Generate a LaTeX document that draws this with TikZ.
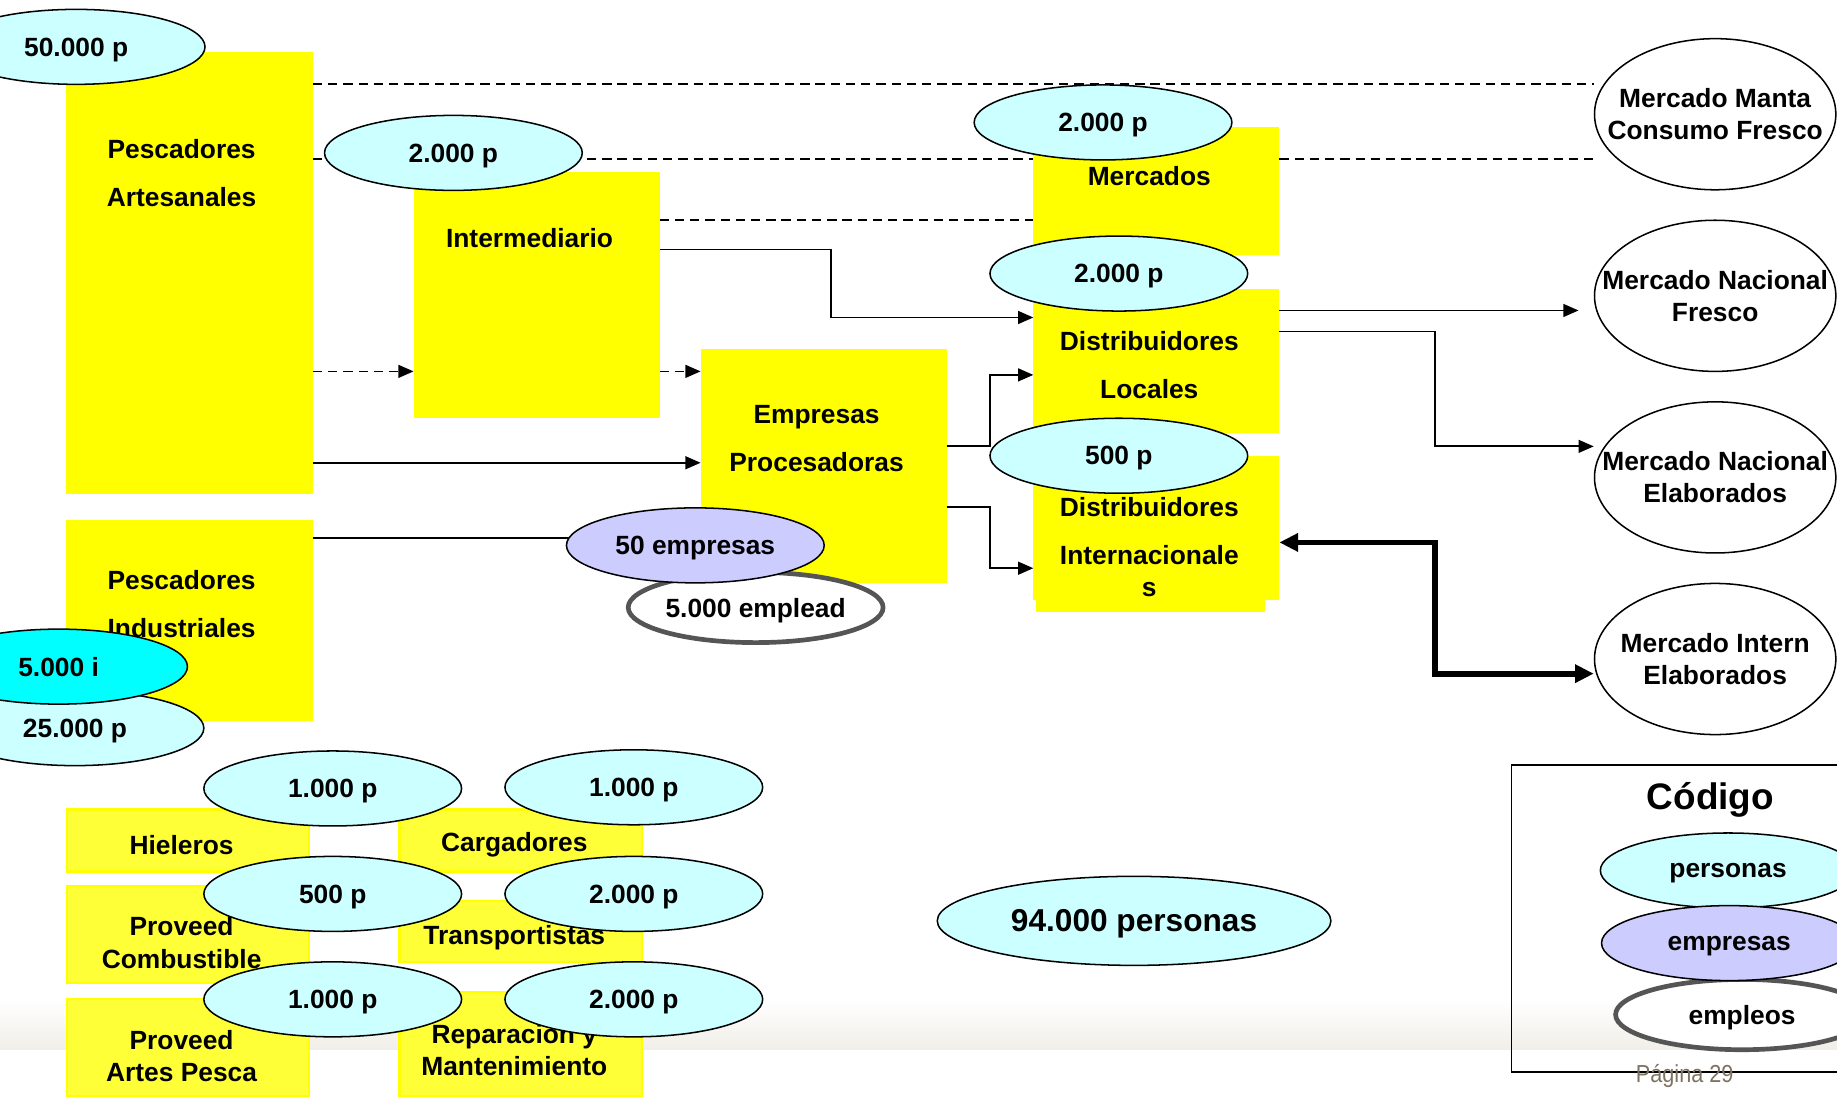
\documentclass[tikz,border=0pt]{standalone}
\usepackage{fontspec}
\setmainfont{Liberation Sans}
\newfontfamily\pagefont[FakeStretch=0.88]{Liberation Sans}
\usetikzlibrary{arrows.meta,shapes.geometric}

\definecolor{Amarillo}{HTML}{FFFF00}
\definecolor{AmarilloClaro}{HTML}{FFFF38}
\definecolor{Personas}{HTML}{CCFFFF}
\definecolor{Empresas}{HTML}{CCCCFF}
\definecolor{Industria}{HTML}{00FFFF}
\definecolor{Empleos}{HTML}{555555}
\definecolor{Pagina}{HTML}{7E7262}
\definecolor{Fondo}{HTML}{F1EEE8}

\tikzset{
 caja/.style={fill=Amarillo, inner sep=0, outer sep=0},
 cajita/.style={fill=AmarilloClaro, draw=Amarillo, line width=2pt, inner sep=0, outer sep=0, minimum width=207pt},
 texto/.style={font=\bfseries\fontsize{22.5}{27.5}\selectfont, align=center, inner sep=0},
 pers/.style={ellipse, draw, line width=1.3pt, fill=Personas, minimum width=220pt, minimum height=64pt, inner sep=0, text depth=0pt, font=\bfseries\fontsize{22.5}{27.5}\selectfont},
 empr/.style={pers, fill=Empresas},
 empl/.style={pers, fill=white, draw=Empleos, line width=4pt, minimum width=216pt, minimum height=60pt},
 mercado/.style={ellipse, draw, line width=1.3pt, fill=white, minimum width=206pt, minimum height=129pt, inner sep=0},
 flujo/.style={line width=1.5pt, -{Triangle[length=13pt,width=11pt]}},
 discontinua/.style={line width=1.5pt, dash pattern=on 8pt off 5pt},
 grueso/.style={line width=5pt, {Triangle[length=16pt,width=15pt]}-{Triangle[length=16pt,width=15pt]}}
}

\begin{document}
\begin{tikzpicture}[x=1pt, y=-1pt]

 \useasboundingbox (0,0) rectangle (1568,936);

 %%%%%%%%%% Fondo %%%%%%%%%%
 \shade [top color=white, bottom color=Fondo] (0,853) rectangle (1568,896);

 %%%%%%%%%% Cajas amarillas %%%%%%%%%%
 \node[caja, minimum width=211pt, minimum height=378pt] (pa) at (161.5,233) {};
 \node[caja, minimum width=210pt, minimum height=210pt] (inter) at (458,252) {};
 \node[caja, minimum width=210pt, minimum height=200pt] (emp) at (703,398) {};
 \node[caja, minimum width=210pt, minimum height=110pt] (merc) at (987,163) {};
 \node[caja, minimum width=210pt, minimum height=123pt] (dloc) at (987,308.5) {};
 \node[caja, minimum width=210pt, minimum height=123pt] (dint) at (987,450.5) {};
 \fill [Amarillo] (884,505) rectangle (1080,522);
 \node[caja, minimum width=211pt, minimum height=171pt] (pind) at (161.5,529.5) {};

 \node[cajita, minimum height=53pt] (hiel) at (160.5,717.5) {};
 \node[cajita, minimum height=53pt] (carg) at (444.5,717.5) {};
 \node[cajita, minimum height=83pt] (comb) at (160.5,797.5) {};
 \node[cajita, minimum height=52pt] (trans) at (444.5,795) {};
 \node[cajita, minimum height=83pt] (artes) at (160.5,894) {};
 \node[cajita, minimum height=89pt] (repar) at (444.5,891) {};

 %%%%%%%%%% Textos de las cajas %%%%%%%%%%
 \node[texto] (paT) at (155,147.5) {Pescadores\\[13.5pt]Artesanales};
 \node[texto] (interT) at (452,203) {Intermediario};
 \node[texto] (empT) at (697,374.5) {Empresas\\[13.5pt]Procesadoras};
 \node[texto] (mercT) at (981,150) {Mercados};
 \node[texto] (dlocT) at (981,311.5) {Distribuidores\\[13.5pt]Locales};
 \node[texto] (dintT) at (981,467) {Distribuidores\\[13pt]Internacionale\\s};
 \node[texto] (pindT) at (155,515.5) {Pescadores\\[13.5pt]Industriales};
 \node[texto] (hielT) at (155,721) {Hieleros};
 \node[texto] (cargT) at (439,721) {Cargadores};
 \node[texto] (combT) at (155,804.5) {Proveed\\Combustible};
 \node[texto] (transT) at (439,800) {Transportistas};
 \node[texto] (artesT) at (155,901.5) {Proveed\\Artes Pesca};
 \node[texto] (reparT) at (439,896.5) {Reparacion y\\Mantenimiento};

 %%%%%%%%%% Mercados finales %%%%%%%%%%
 \node[mercado] (mManta) at (1464,97.5) {};
 \node[mercado] (mNacF) at (1464,252.5) {};
 \node[mercado] (mNacE) at (1464,407.5) {};
 \node[mercado] (mIntE) at (1464,562.5) {};
 \node[texto] (mMantaT) at (mManta) {Mercado Manta\\Consumo Fresco};
 \node[texto] (mNacFT) at (mNacF) {Mercado Nacional\\Fresco};
 \node[texto] (mNacET) at (mNacE) {Mercado Nacional\\Elaborados};
 \node[texto] (mIntET) at (mIntE) {Mercado Intern\\Elaborados};

 %%%%%%%%%% Flujos discontinuos %%%%%%%%%%
 \draw [discontinua] (pa.east |- 0,72) -- (mManta.west |- 0,72);
 \draw [discontinua] (pa.east |- 0,136) -- (merc.west |- 0,136);
 \draw [discontinua] (merc.east |- 0,136) -- (mManta.west |- 0,136);
 \draw [discontinua] (inter.east |- 0,188) -- (merc.west |- 0,188);
 \draw [discontinua, -{Triangle[length=13pt,width=11pt]}] (pa.east |- 0,317) -- (inter.west |- 0,317);
 \draw [discontinua, -{Triangle[length=13pt,width=11pt]}] (inter.east |- 0,317) -- (emp.west |- 0,317);

 %%%%%%%%%% Flujos continuos %%%%%%%%%%
 \draw [flujo] (inter.east |- 0,213) -| (709,242) |- (dloc.west |- 0,271);
 \draw [flujo] (pa.east |- 0,395) -- (emp.west |- 0,395);
 \draw [flujo] (emp.east |- 0,381) -| (845,350) |- (dloc.west |- 0,320);
 \draw [flujo] (emp.east |- 0,433) -| (845,460) |- (dint.west |- 0,485);
 \draw [line width=1.5pt] (pind.east |- 0,459) -- (593,459);
 \draw [flujo, shorten >=13pt] (dloc.east |- 0,265) -- (mNacF.west |- 0,265);
 \draw [flujo] (dloc.east |- 0,283) -| (1225,330) |- (mNacE.west |- 0,381);
 \draw [grueso] (dint.east |- 0,463) -| (1225,520) |- (mIntE.west |- 0,575);

 %%%%%%%%%% Personas, empresas y empleos %%%%%%%%%%
 \node[pers] (e50k) at (65,40) {50.000 p};
 \node[pers] (eInter) at (387,130.5) {2.000 p};
 \node[pers] (eMerc) at (941.5,104.5) {2.000 p};
 \node[pers] (eDloc) at (955,233.5) {2.000 p};
 \node[pers] (eDint) at (955,389) {500 p};
 \node[empl] (eEmpl) at (645,518.5) {5.000 emplead};
 \node[empr] (eEmp) at (593.5,465.5) {50 empresas};
 \node[pers] (e25k) at (64,621.5) {25.000 p};
 \node[pers, fill=Industria] (e5i) at (50,569) {5.000 i};
 \node[pers] (eHiel) at (284,673) {1.000 p};
 \node[pers] (eCarg) at (541,672) {1.000 p};
 \node[pers] (eComb) at (284,763) {500 p};
 \node[pers] (eTrans) at (541,763) {2.000 p};
 \node[pers] (eArtes) at (284,853) {1.000 p};
 \node[pers] (eRepar) at (541,853) {2.000 p};
 \node[pers, minimum width=336pt, minimum height=76pt, font=\bfseries\fontsize{27}{32}\selectfont] (eTotal) at (968,786) {94.000 personas};

 %%%%%%%%%% Codigo %%%%%%%%%%
 \draw [line width=1.3pt] (1290,653) rectangle (1600,915);
 \node[texto, font=\bfseries\fontsize{31.5}{36}\selectfont] (cod) at (1460,683) {Código};
 \node[pers, minimum width=218pt] (lPer) at (1475,743) {personas};
 \node[empl, minimum width=216pt] (lEmpl) at (1487,866) {empleos};
 \node[empr, minimum width=218pt] (lEmp) at (1476,805) {empresas};

 \node[inner sep=0, text=Pagina, font=\pagefont\fontsize{21}{25}\selectfont] (pag) at (1438,918) {Página 29};

\end{tikzpicture}
\end{document}
